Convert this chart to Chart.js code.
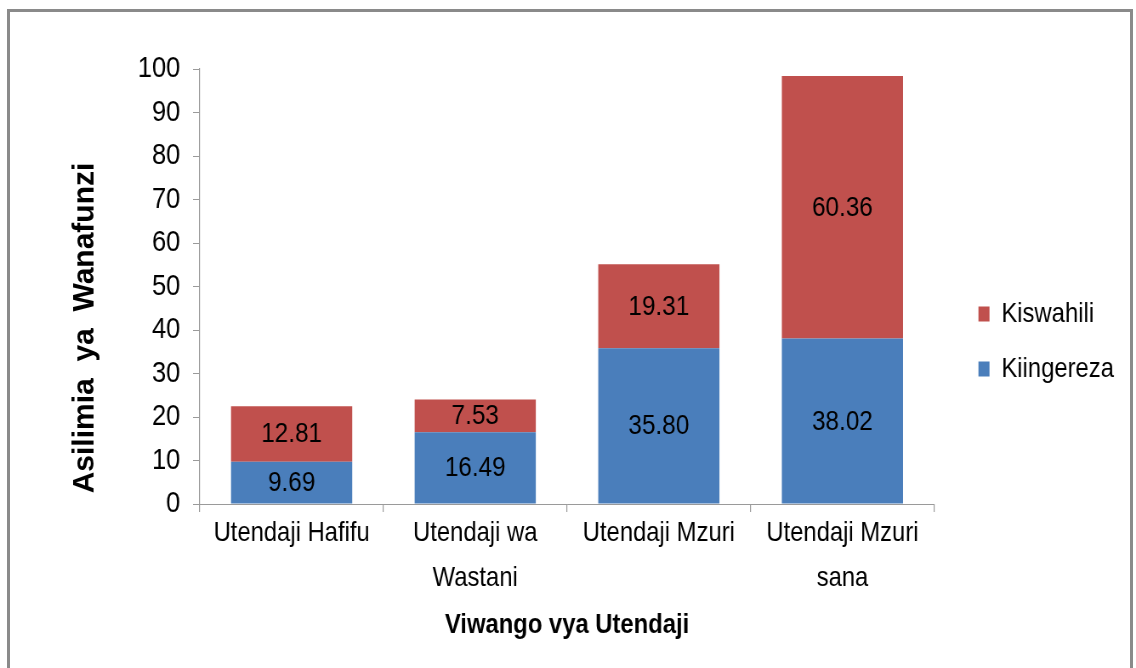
<!DOCTYPE html>
<html>
<head>
<meta charset="utf-8">
<script src="https://cdn.jsdelivr.net/npm/chart.js@4.4.1/dist/chart.umd.min.js"></script>
<style>
  html, body { margin: 0; padding: 0; background: #ffffff; overflow: hidden; }
  #wrap { position: relative; width: 1136px; height: 668px; }
  #frame { position: absolute; left: 7px; top: 9px; width: 1120px; height: 700px; border: 3px solid #8a8a8a; pointer-events: none; box-sizing: content-box; }
  canvas { position: absolute; left: 0; top: 0; }
</style>
</head>
<body>
<div id="wrap">
  <canvas id="c" width="1336" height="668" style="width:1136px;height:668px"></canvas>
  <div id="frame"></div>
</div>
<script>
const categories = [
  ['Utendaji Hafifu'],
  ['Utendaji wa', 'Wastani'],
  ['Utendaji Mzuri'],
  ['Utendaji Mzuri', 'sana']
];
const kiingereza = [9.69, 16.49, 35.80, 38.02];
const kiswahili = [12.81, 7.53, 19.31, 60.36];
const yTicks = { min: 0, max: 100, step: 10 };
const xTitle = 'Viwango vya Utendaji';
const yTitle = 'Asilimia  ya  Wanafunzi';

// The canvas is drawn wider and shown at 1136px, giving the narrow (condensed) lettering of the original.
const SQUEEZE = 1136 / 1336;
const FONT = "'Liberation Sans', Arial, sans-serif";
const AXIS_GRAY = '#9a9a9a';

const valueLabels = {
  id: 'valueLabels',
  afterDatasetsDraw(chart) {
    const ctx = chart.ctx;
    chart.data.datasets.forEach((ds, di) => {
      const meta = chart.getDatasetMeta(di);
      meta.data.forEach((el, i) => {
        const p = el.getCenterPoint();
        ctx.save();
        ctx.translate(p.x, p.y + 1);
        ctx.scale(0.9 / SQUEEZE, 1);
        ctx.font = '27px ' + FONT;
        ctx.fillStyle = '#000000';
        ctx.textAlign = 'center';
        ctx.textBaseline = 'middle';
        ctx.fillText(ds.data[i].toFixed(2), 0, 0);
        ctx.restore();
      });
    });
  }
};

const yTitlePlugin = {
  id: 'yTitlePlugin',
  afterDraw(chart) {
    const ctx = chart.ctx;
    const area = chart.chartArea;
    ctx.save();
    ctx.translate(85 / SQUEEZE, area.bottom - 176);
    ctx.scale(1 / SQUEEZE, 1);
    ctx.rotate(-Math.PI / 2);
    ctx.font = 'bold 30px ' + FONT;
    ctx.fillStyle = '#000000';
    ctx.textAlign = 'center';
    ctx.textBaseline = 'middle';
    ctx.fillText(yTitle, 0, 0);
    ctx.restore();
  }
};

new Chart(document.getElementById('c'), {
  type: 'bar',
  data: {
    labels: categories,
    datasets: [
      { label: 'Kiingereza', data: kiingereza, backgroundColor: '#4a7ebb', borderWidth: 0,
        barPercentage: 0.66, categoryPercentage: 1.0 },
      { label: 'Kiswahili', data: kiswahili, backgroundColor: '#c0504d', borderWidth: 0,
        barPercentage: 0.66, categoryPercentage: 1.0 }
    ]
  },
  options: {
    responsive: false,
    animation: false,
    devicePixelRatio: 1,
    layout: { padding: { top: 69, bottom: 0, left: 0, right: 16 } },
    plugins: {
      tooltip: { enabled: false },
      legend: {
        position: 'right',
        fullSize: false,
        reverse: true,
        title: { display: true, text: '', font: { size: 10 }, padding: { top: 98, bottom: 0 } },
        labels: {
          boxWidth: 13,
          boxHeight: 15,
          padding: 27,
          color: '#000000',
          font: { family: FONT, size: 28 }
        }
      }
    },
    scales: {
      x: {
        stacked: true,
        grid: { display: true, drawOnChartArea: false, drawTicks: true, tickLength: 8, color: AXIS_GRAY, lineWidth: 1.2, offset: true },
        border: { display: true, color: AXIS_GRAY, width: 1 },
        ticks: { color: '#000000', padding: -1, maxRotation: 0, autoSkip: false,
                 font: { family: FONT, size: 28, lineHeight: '45px' } },
        title: { display: true, text: xTitle, color: '#000000', padding: { top: 0, bottom: 26 },
                 font: { family: FONT, size: 28, weight: 'bold' } },
        afterFit(s) { s.height = 164; }
      },
      y: {
        stacked: true,
        min: yTicks.min,
        max: yTicks.max,
        grid: { display: true, drawOnChartArea: false, drawTicks: true, tickLength: 8, color: AXIS_GRAY },
        border: { display: true, color: AXIS_GRAY, width: 1.2 },
        ticks: { stepSize: yTicks.step, color: '#000000', padding: 15,
                 font: { family: FONT, size: 30 } },
        afterFit(s) { s.width = 235; }
      },
      yR: {
        type: 'linear',
        axis: 'y',
        position: 'right',
        display: true,
        grid: { display: false, drawTicks: false },
        border: { display: false },
        ticks: { display: false },
        afterFit(s) { s.width = 25; }
      }
    }
  },
  plugins: [valueLabels, yTitlePlugin]
});
</script>
</body>
</html>
